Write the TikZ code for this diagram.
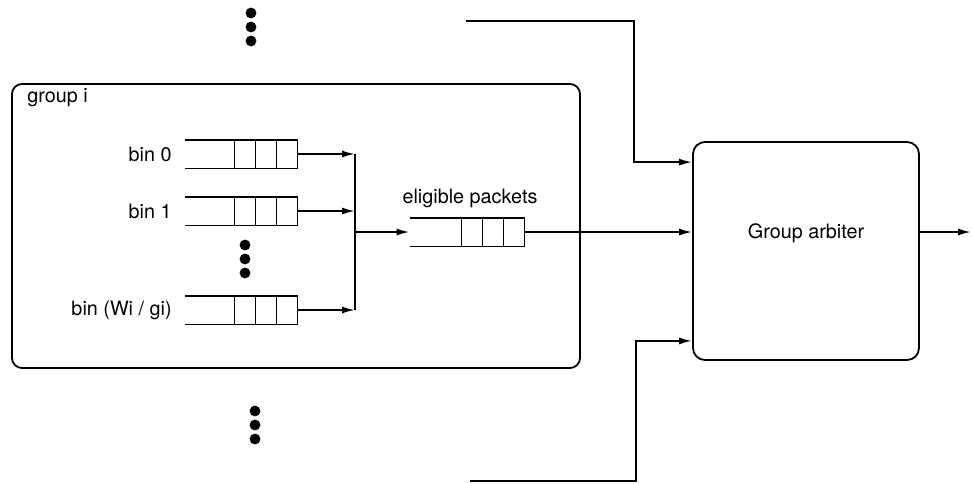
\documentclass[tikz,border=0pt]{standalone}
\usepackage{fontspec}
\setmainfont{TeX Gyre Heros}
\usetikzlibrary{positioning,arrows.meta,calc}
\tikzset{
  box-group/.style={draw,line width=0.9pt,rounded corners=5pt,
    minimum width=284pt,minimum height=142pt,inner sep=0pt},
  box-arbiter/.style={draw,line width=0.9pt,rounded corners=6pt,
    minimum width=113pt,minimum height=109pt,inner sep=0pt},
  node-queue/.style={minimum width=56pt,minimum height=14pt,inner sep=0pt},
  node-dot/.style={circle,fill,inner sep=0pt,minimum size=5.4pt},
  label-text/.style={font=\fontsize{9.9}{11}\selectfont,inner sep=0pt},
  arrow/.style={-{Latex[length=6.5pt,width=3.5pt]},line width=0.9pt},
  line/.style={line width=0.9pt},
}
% queue: open on the left, three cells at the head
\newcommand\drawqueue[1]{%
  \draw[line] (#1.north west) -- (#1.north east) -- (#1.south east) -- (#1.south west);
  \foreach \c in {10.5,21,31.5}
    \draw[line] ($(#1.north east)+(-\c pt,0pt)$) -- ($(#1.south east)+(-\c pt,0pt)$);
}

\begin{document}
\begin{tikzpicture}[x=0.5pt,y=-0.5pt]
  \useasboundingbox (0,0) rectangle (972,483);

  % group i
  \node[box-group] (group) at (296,226) {};
  \node[label-text,anchor=west] (group-label) at (27,98) {group i};

  % bins
  \node[node-queue] (bin0) at (241,154) {};
  \node[node-queue] (bin1) at (241,211) {};
  \node[node-queue] (binn) at (241,310) {};
  \drawqueue{bin0}
  \drawqueue{bin1}
  \drawqueue{binn}
  \node[label-text,anchor=east] (bin0-label) at (172,154) {bin 0};
  \node[label-text,anchor=east] (bin1-label) at (172,211) {bin 1};
  \node[label-text,anchor=east] (binn-label) at (172,310) {bin (Wi / gi)};
  \foreach \i/\y in {1/245,2/259,3/273}
    \node[node-dot] (dot-bin-\i) at (245,\y) {};

  % eligible packets
  \node[node-queue,minimum width=57pt] (elig) at (467,232) {};
  \drawqueue{elig}
  \node[label-text] (elig-label) at (470,198) {eligible packets};

  \coordinate (merge) at (355,232);
  \draw[arrow] (bin0.east) -- (bin0.east -| merge);
  \draw[arrow] (bin1.east) -- (bin1.east -| merge);
  \draw[arrow] (binn.east) -- (binn.east -| merge);
  \draw[line] (bin0.east -| merge) -- (binn.east -| merge);
  \draw[arrow] (merge) -- (elig.west);

  % arbiter
  \node[box-arbiter] (arbiter) at (806,251) {};
  \node[label-text] (arbiter-label) at (806,233) {Group arbiter};

  \coordinate (in-top) at (466,21);
  \coordinate (in-bot) at (470,481);
  \coordinate (out) at (971,232);
  \draw[arrow] (in-top) -| ($(arbiter.north west)+(-58,21)$) -- ($(arbiter.north west)+(0,21)$);
  \draw[arrow] (elig.east) -- (arbiter.west |- elig.east);
  \draw[arrow] (in-bot) -| ($(arbiter.south west)+(-56,-20)$) -- ($(arbiter.south west)+(0,-20)$);
  \draw[arrow] (arbiter.east |- elig.east) -- (out);

  % other groups
  \foreach \i/\y in {1/13,2/27,3/41}
    \node[node-dot] (dot-top-\i) at (251,\y) {};
  \foreach \i/\y in {1/411,2/425,3/439}
    \node[node-dot] (dot-bot-\i) at (255,\y) {};
\end{tikzpicture}
\end{document}
